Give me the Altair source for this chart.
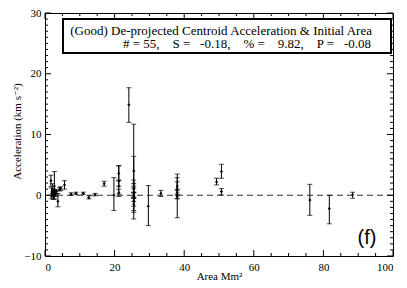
import altair as alt
import pandas as pd

# ---- data ----
area = [1.7, 1.9, 2.1, 2.3, 2.4, 2.5, 2.6, 2.7, 2.9, 3.1, 3.3, 3.7, 4.2, 4.5, 5.6,
        7.5, 8.9, 11.0, 12.6, 14.4, 17.0, 19.8,
        21.2, 21.2, 21.2, 21.2, 24.1,
        25.5, 25.5, 25.5, 25.5, 25.5, 25.5, 25.5, 25.5, 25.5,
        29.7, 33.3, 38.0, 38.0, 38.0, 38.0, 38.0,
        49.3, 50.7, 50.7, 76.1, 81.7, 88.4]
accel = [2.4, 0.3, 0.8, 0.2, 0.5, -0.2, 0.6, 1.5, 0.4, 0.2, 0.6, -1.0, 1.0, 1.1, 1.7,
         0.2, 0.3, 0.3, -0.4, 0.1, 1.9, 0.0,
         3.6, 2.3, 1.5, 0.4, 14.9,
         4.0, 1.0, 2.0, 0.3, 0.0, -0.3, -1.0, -1.5, 1.2,
         -1.8, 0.3, 0.0, 1.0, 1.5, 0.5, -0.2,
         2.2, 3.9, 0.6, -0.8, -2.2, 0.1]
err_lo = [1.4, -0.6, -0.3, -0.2, 0.0, -0.7, 0.2, -0.6, 0.0, -0.2, 0.3, -1.9, 0.7, 0.8, 1.0,
          0.0, 0.1, 0.1, -0.6, -0.1, 1.5, -2.5,
          2.4, 1.5, 0.2, -0.2, 12.0,
          -3.9, -2.5, 1.5, -0.5, -0.4, -1.0, -1.8, -2.8, 0.5,
          -5.0, -0.2, -3.7, -0.5, 0.8, 0.0, -0.6,
          1.7, 2.8, 0.05, -3.3, -4.7, -0.5]
err_hi = [3.3, 1.2, 1.9, 0.6, 1.0, 0.3, 1.0, 3.9, 0.9, 0.7, 0.9, 0.3, 1.3, 1.4, 2.4,
          0.4, 0.5, 0.5, -0.1, 0.3, 2.3, 2.9,
          4.9, 4.8, 2.5, 1.0, 17.7,
          11.7, 6.4, 2.5, 1.2, 0.5, 0.4, -0.3, -0.5, 1.9,
          1.6, 0.8, 3.5, 2.9, 2.2, 1.0, 0.2,
          2.8, 5.1, 1.1, 1.8, 0.0, 0.5]

x_major = [0, 20, 40, 60, 80, 100]
x_minor = [5, 10, 15, 25, 30, 35, 45, 50, 55, 65, 70, 75, 85, 90, 95]
y_major = [-10, 0, 10, 20, 30]
y_minor = [v for v in range(-10, 31) if v % 10 != 0]

title_line1 = "(Good) De-projected Centroid Acceleration & Initial Area"
title_line2 = "# = 55,\u00a0\u00a0\u00a0 S =\u00a0\u00a0 -0.18,\u00a0\u00a0\u00a0 % =\u00a0\u00a0\u00a0 9.82,\u00a0\u00a0\u00a0 P =\u00a0\u00a0 -0.08"
panel_label = "(f)"

df = pd.DataFrame({"area": area, "accel": accel, "lo": err_lo, "hi": err_hi})

W, H = 348, 243
SERIF = "'Liberation Serif', 'Times New Roman', 'DejaVu Serif', serif"

xs = alt.Scale(domain=[0, 100], nice=False, zero=False)
ys = alt.Scale(domain=[-10, 30], nice=False, zero=False)

x_axis = alt.Axis(values=x_major, ticks=False, domain=False, grid=False,
                  labelFont=SERIF, labelFontSize=11, labelColor="black", labelPadding=5,
                  title="Area Mm²", titleFont=SERIF, titleFontSize=11, titleFontWeight="normal",
                  titleColor="black", titleY=23, titleBaseline="alphabetic")
y_axis = alt.Axis(values=y_major, ticks=False, domain=False, grid=False,
                  labelFont=SERIF, labelFontSize=11, labelColor="black", labelPadding=4,
                  title="Acceleration (km s⁻²)", titleFont=SERIF, titleFontSize=11,
                  titleFontWeight="normal", titleColor="black", titleX=-23, titleY=118)

base = alt.Chart(df)

bars = base.mark_rule(color="black", strokeWidth=1).encode(
    x=alt.X("area:Q", scale=xs, axis=x_axis),
    y=alt.Y("lo:Q", scale=ys, axis=y_axis),
    y2="hi:Q",
)
caps = base.transform_fold(["lo", "hi"], as_=["end", "val"]).mark_tick(
    color="black", orient="horizontal", size=5, thickness=1
).encode(x=alt.X("area:Q", scale=xs), y=alt.Y("val:Q", scale=ys))
pts = base.mark_point(shape="diamond", filled=True, color="black", size=10, opacity=1).encode(
    x=alt.X("area:Q", scale=xs), y=alt.Y("accel:Q", scale=ys))

zero_df = pd.DataFrame({"y": [0]})
zero_line = alt.Chart(zero_df).mark_rule(color="#333333", strokeDash=[6, 4], strokeWidth=1).encode(
    y=alt.Y("y:Q", scale=ys))

def xticks(vals, length):
    d = pd.DataFrame({"v": vals})
    bot = alt.Chart(d).mark_rule(color="black").encode(
        x=alt.X("v:Q", scale=xs), y=alt.value(H), y2=alt.value(H - length))
    top = alt.Chart(d).mark_rule(color="black").encode(
        x=alt.X("v:Q", scale=xs), y=alt.value(0), y2=alt.value(length))
    return bot + top

def yticks(vals, length):
    d = pd.DataFrame({"v": vals})
    left = alt.Chart(d).mark_rule(color="black").encode(
        y=alt.Y("v:Q", scale=ys), x=alt.value(0), x2=alt.value(length))
    right = alt.Chart(d).mark_rule(color="black").encode(
        y=alt.Y("v:Q", scale=ys), x=alt.value(W), x2=alt.value(W - length))
    return left + right

box = alt.Chart(zero_df).mark_rect(fill="white", stroke="black", strokeWidth=2).encode(
    x=alt.value(18), x2=alt.value(346), y=alt.value(6), y2=alt.value(40))
t1 = alt.Chart(zero_df).mark_text(font=SERIF, fontSize=13, color="black", align="right",
                                  baseline="alphabetic", text=title_line1).encode(
    x=alt.value(327), y=alt.value(21.5))
t2 = alt.Chart(zero_df).mark_text(font=SERIF, fontSize=13, color="black", align="right",
                                  baseline="alphabetic", text=title_line2).encode(
    x=alt.value(326), y=alt.value(35))
flabel = alt.Chart(zero_df).mark_text(font="'Liberation Sans', Arial, sans-serif", fontSize=20,
                                      color="black", align="center", baseline="alphabetic",
                                      text=panel_label).encode(
    x=alt.value(322), y=alt.value(231))

chart = alt.layer(
    bars, zero_line, caps, pts,
    xticks(x_major, 6), xticks(x_minor, 3), yticks(y_major, 6), yticks(y_minor, 3),
    box, t1, t2, flabel,
).properties(
    width=W, height=H,
    autosize=alt.AutoSizeParams(type="none"),
    padding={"left": 37, "top": 5, "right": 6, "bottom": 24},
    background="white",
).configure_view(stroke="black", strokeWidth=1)

chart.save("out.html", embed_options={"renderer": "svg", "actions": False})
